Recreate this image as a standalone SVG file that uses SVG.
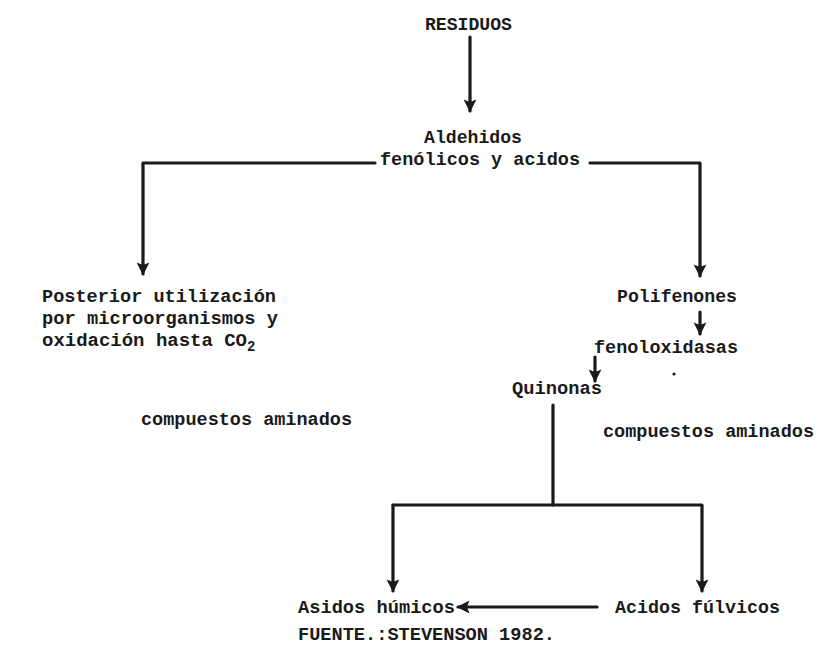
<svg xmlns="http://www.w3.org/2000/svg" width="818" height="646" viewBox="0 0 818 646">
<defs>
<style>
text{font-family:"Liberation Mono","DejaVu Sans Mono",monospace;font-size:19px;font-weight:bold;fill:#1a1a1a}
.ln{fill:none;stroke:#1a1a1a;stroke-width:3.2;stroke-linecap:round;stroke-linejoin:round}
</style>
<marker id="ah" viewBox="0 0 10 10" refX="9" refY="5" markerWidth="4" markerHeight="4.5" markerUnits="strokeWidth" orient="auto">
<path d="M0,0 L10,5 L0,10 L2,5 Z" fill="#1a1a1a"/>
</marker>
</defs>
<rect width="818" height="646" fill="#fff"/>
<g id="connectors">
<path class="ln" d="M470,37 V111" marker-end="url(#ah)"/>
<path class="ln" d="M375,163 H143 V274" marker-end="url(#ah)"/>
<path class="ln" d="M590,163 H700 V276" marker-end="url(#ah)"/>
<path class="ln" d="M700,312 V334" marker-end="url(#ah)"/>
<path class="ln" d="M595,357 V381" marker-end="url(#ah)"/>
<path class="ln" d="M553,405 V505"/>
<path class="ln" d="M393,505 H702 V591" marker-end="url(#ah)"/>
<path class="ln" d="M393,505 V591" marker-end="url(#ah)"/>
<path class="ln" d="M597,607 H458" marker-end="url(#ah)"/>
</g>
<g id="residuos"><text x="425" y="30" textLength="87" lengthAdjust="spacingAndGlyphs">RESIDUOS</text></g>
<g id="aldehidos">
<text x="424" y="143" textLength="98" lengthAdjust="spacingAndGlyphs">Aldehidos</text>
<text x="380" y="165" textLength="200" lengthAdjust="spacingAndGlyphs">fenólicos y acidos</text>
</g>
<g id="posterior">
<text x="42" y="302" textLength="234" lengthAdjust="spacingAndGlyphs">Posterior utilización</text>
<text x="42" y="324" textLength="236" lengthAdjust="spacingAndGlyphs">por microorganismos y</text>
<text x="42" y="346"><tspan textLength="205" lengthAdjust="spacingAndGlyphs">oxidación hasta CO</tspan><tspan dy="5" font-size="14">2</tspan></text>
</g>
<g id="polifenones"><text x="617" y="302" textLength="120" lengthAdjust="spacingAndGlyphs">Polifenones</text></g>
<g id="fenoloxidasas"><text x="594" y="353" textLength="144" lengthAdjust="spacingAndGlyphs">fenoloxidasas</text>
<circle cx="674" cy="374" r="1.6" fill="#1a1a1a"/></g>
<g id="quinonas"><text x="512" y="394" textLength="90" lengthAdjust="spacingAndGlyphs">Quinonas</text></g>
<g id="compuestos-izq"><text x="141" y="425" textLength="211" lengthAdjust="spacingAndGlyphs">compuestos aminados</text></g>
<g id="compuestos-der"><text x="603" y="437" textLength="211" lengthAdjust="spacingAndGlyphs">compuestos aminados</text></g>
<g id="humicos"><text x="298" y="613" textLength="157" lengthAdjust="spacingAndGlyphs">Asidos húmicos</text></g>
<g id="fulvicos"><text x="615" y="613" textLength="165" lengthAdjust="spacingAndGlyphs">Acidos fúlvicos</text></g>
<g id="fuente"><text x="298" y="640" textLength="257" lengthAdjust="spacingAndGlyphs">FUENTE.:STEVENSON 1982.</text></g>
</svg>
